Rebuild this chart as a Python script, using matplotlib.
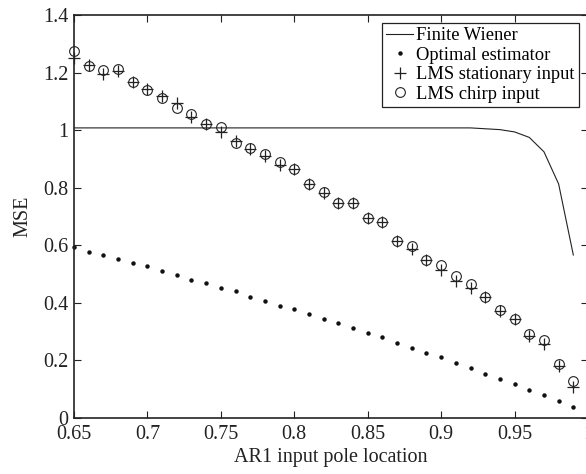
import matplotlib
matplotlib.use("Agg")
import matplotlib.pyplot as plt
import numpy as np

plt.rcParams['font.family'] = ['Liberation Serif', 'DejaVu Serif']
plt.rcParams['mathtext.fontset'] = 'stix'

pole = [0.65, 0.66, 0.67, 0.68, 0.69, 0.70, 0.71, 0.72, 0.73, 0.74,
        0.75, 0.76, 0.77, 0.78, 0.79, 0.80, 0.81, 0.82, 0.83, 0.84,
        0.85, 0.86, 0.87, 0.88, 0.89, 0.90, 0.91, 0.92, 0.93, 0.94,
        0.95, 0.96, 0.97, 0.98, 0.99]

wiener = [1.008, 1.008, 1.008, 1.008, 1.008, 1.008, 1.008, 1.008, 1.008, 1.008,
          1.008, 1.008, 1.008, 1.008, 1.008, 1.008, 1.008, 1.008, 1.008, 1.008,
          1.008, 1.008, 1.008, 1.008, 1.008, 1.008, 1.008, 1.008, 1.005, 1.002,
          0.994, 0.975, 0.925, 0.813, 0.566]

optimal = [0.595, 0.578, 0.567, 0.552, 0.538, 0.526, 0.509, 0.497, 0.479, 0.468,
           0.450, 0.439, 0.421, 0.406, 0.389, 0.377, 0.361, 0.345, 0.329, 0.313,
           0.296, 0.280, 0.259, 0.242, 0.224, 0.210, 0.189, 0.174, 0.152, 0.135,
           0.116, 0.098, 0.079, 0.058, 0.036]

lms_stationary = [1.250, 1.228, 1.196, 1.206, 1.169, 1.143, 1.118, 1.096, 1.046, 1.020,
                  0.994, 0.963, 0.936, 0.911, 0.879, 0.864, 0.813, 0.783, 0.748, 0.746,
                  0.696, 0.679, 0.614, 0.587, 0.549, 0.514, 0.475, 0.452, 0.421, 0.372,
                  0.344, 0.283, 0.258, 0.179, 0.107]

lms_chirp = [1.274, 1.224, 1.208, 1.212, 1.167, 1.139, 1.111, 1.077, 1.056, 1.020,
             1.011, 0.954, 0.937, 0.917, 0.891, 0.864, 0.812, 0.786, 0.746, 0.746,
             0.696, 0.679, 0.614, 0.596, 0.549, 0.532, 0.494, 0.466, 0.421, 0.376,
             0.344, 0.290, 0.271, 0.188, 0.128]

xticks = [0.65, 0.7, 0.75, 0.8, 0.85, 0.9, 0.95, 1.0]
xticklabels = ['0.65', '0.7', '0.75', '0.8', '0.85', '0.9', '0.95', '1']
yticks = [0, 0.2, 0.4, 0.6, 0.8, 1.0, 1.2, 1.4]
yticklabels = ['0', '0.2', '0.4', '0.6', '0.8', '1', '1.2', '1.4']

fig = plt.figure(figsize=(5.86, 4.74), dpi=100)
W, H = 586, 474
ax = fig.add_axes([74 / W, (H - 417.7) / H, (588 - 74) / W, (417.7 - 15.2) / H])

ax.plot(pole, wiener, color='#222222', lw=0.8, label='Finite Wiener')
ax.plot(pole, optimal, linestyle='none', marker='o', ms=3.2, color='#111111',
        markeredgewidth=0, label='Optimal estimator', clip_on=False)
ax.plot(pole, lms_stationary, linestyle='none', marker='+', ms=8, mew=0.9,
        color='#222222', label='LMS stationary input', clip_on=False)
ax.plot(pole, lms_chirp, linestyle='none', marker='o', ms=7, mew=0.8,
        mfc='none', mec='#222222', label='LMS chirp input', clip_on=False)

ax.set_xlim(0.65, 1.0)
ax.set_ylim(0, 1.4)
ax.set_xticks(xticks)
ax.set_xticklabels(xticklabels)
ax.set_yticks(yticks)
ax.set_yticklabels(yticklabels)
ax.tick_params(direction='in', length=5, width=0.8, top=True, right=True,
               labelsize=14.5, colors='#222222')
ax.tick_params(axis='x', pad=5)
ax.tick_params(axis='y', pad=4)
for s in ax.spines.values():
    s.set_linewidth(1.2)
    s.set_color('#222222')

ax.set_xlabel('AR1 input pole location', fontsize=14.5, color='#222222', labelpad=3)
ax.set_ylabel('MSE', fontsize=14.5, color='#222222', labelpad=8)

leg = ax.legend(loc='upper right', bbox_to_anchor=(579 / W, (H - 22.7) / H),
                bbox_transform=fig.transFigure, fontsize=13.3, frameon=True,
                fancybox=False, edgecolor='#222222', framealpha=1,
                borderpad=0.25, labelspacing=0.13, handlelength=1.45,
                handletextpad=0.15, borderaxespad=0)
leg.get_frame().set_linewidth(0.9)

fig.savefig('out.png', dpi=100)
